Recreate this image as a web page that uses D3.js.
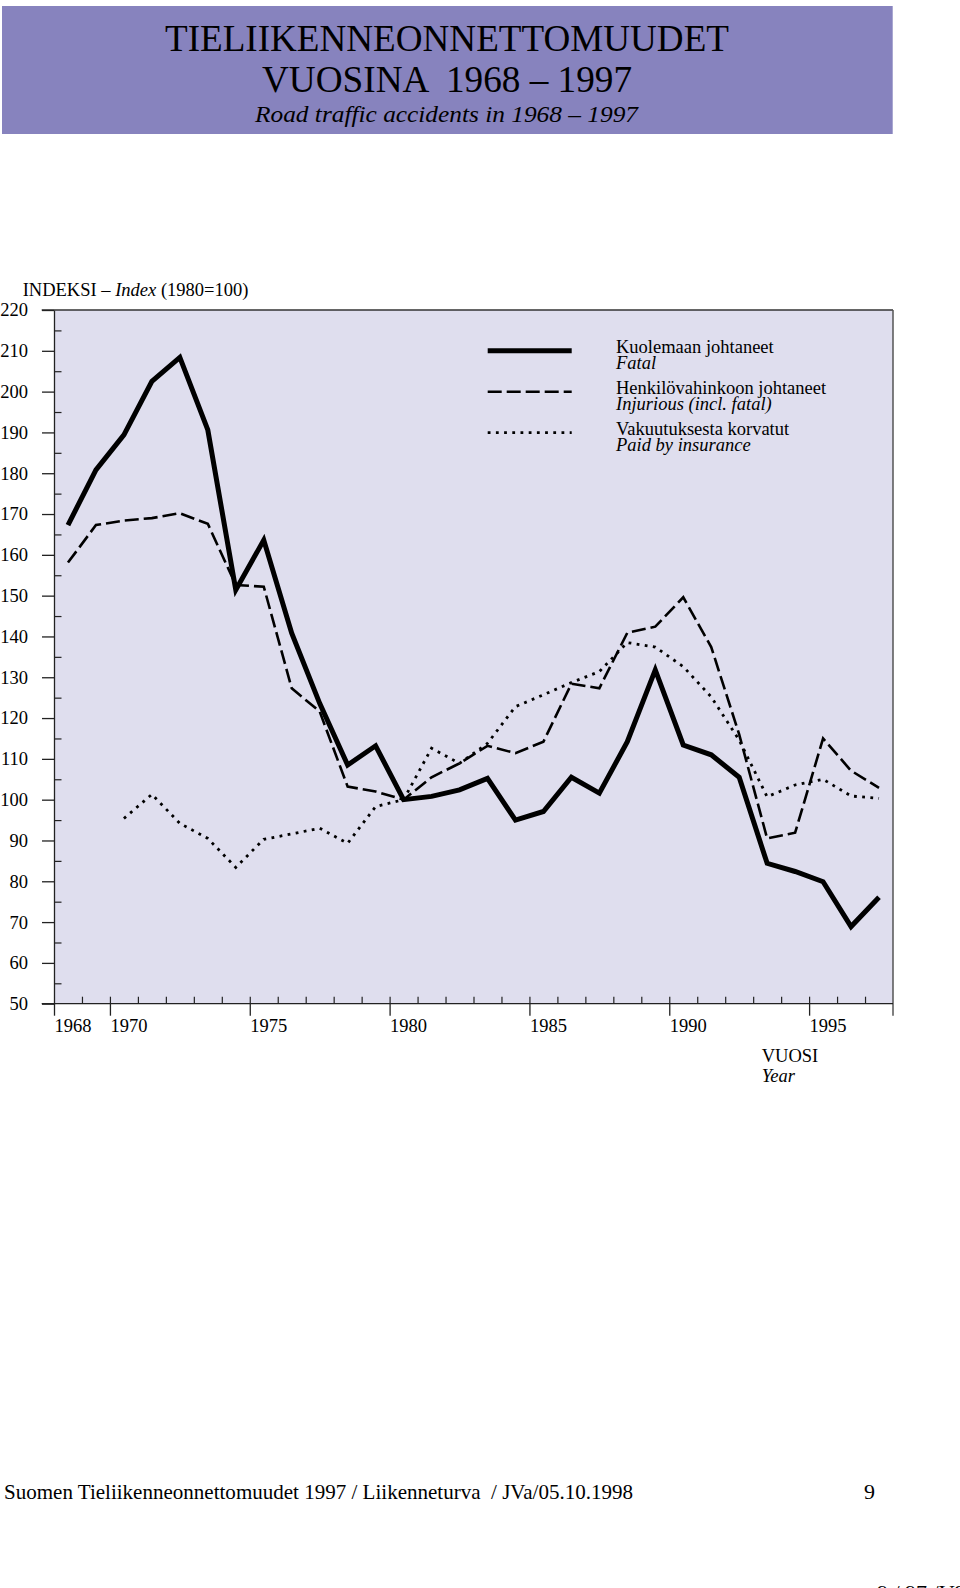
<!DOCTYPE html>
<html>
<head>
<meta charset="utf-8">
<script src="https://cdn.jsdelivr.net/npm/d3@7"></script>
<style>
  html, body { margin: 0; padding: 0; background: #ffffff; }
  svg { display: block; font-family: "Liberation Serif", "Times New Roman", serif; }
  text { fill: #000; }
</style>
</head>
<body>
<svg id="chart" width="960" height="1588"></svg>
<script>
// ---- Data (index 1980 = 100) ----
const years = d3.range(1968, 1998);
const fatal = [167.3, 180.8, 189.4, 202.5, 208.4, 190.6, 151.4, 163.6, 140.8, 123.6,
               108.5, 113.2, 100, 100.8, 102.4, 105.2, 95.0, 97.1, 105.5, 101.6,
               114.2, 131.8, 113.4, 111.0, 105.5, 84.4, 82.4, 79.9, 68.9, 76.1];
const injurious = [158.1, 167.3, 168.4, 169.0, 170.2, 167.6, 152.6, 152.2, 127.3, 121.6,
                   103.2, 102.0, 100, 105.5, 108.9, 113.2, 111.4, 114.2, 128.4, 127.3,
                   140.9, 142.4, 149.6, 137.4, 116.0, 90.5, 91.9, 115.0, 107.1, 102.9];
const insuranceYears = d3.range(1970, 1998);
const insurance = [95.4, 101.3, 94.2, 90.5, 83.4, 90.3, 91.6, 93.0, 89.3, 98.3,
                   100, 112.6, 108.9, 113.8, 122.8, 125.7, 128.7, 131.4, 138.5, 137.4,
                   132.6, 125.2, 114.6, 100.7, 103.6, 105.0, 100.9, 100.3];
const yMajorTicks = d3.range(50, 221, 10);
const yMinorTicks = d3.range(55, 220, 10);
const xLabelTicks = [1968, 1970, 1975, 1980, 1985, 1990, 1995];
const xMinorTicks = d3.range(1969, 1998);

const titleLines = ["TIELIIKENNEONNETTOMUUDET", "VUOSINA  1968 – 1997"];
const subtitle = "Road traffic accidents in 1968 – 1997";
const legendItems = [
  {fi: "Kuolemaan johtaneet", en: "Fatal", key: "fatal"},
  {fi: "Henkilövahinkoon johtaneet", en: "Injurious (incl. fatal)", key: "injurious"},
  {fi: "Vakuutuksesta korvatut", en: "Paid by insurance", key: "insurance"}
];
const footer = "Suomen Tieliikenneonnettomuudet 1997 / Liikenneturva  / JVa/05.10.1998";

(function () {
// ---- Layout ----
const svg = d3.select("#chart");
const pL = 54, pR = 893, pT = 310, pB = 1003.7;
const x = d3.scaleLinear().domain([1968, 1998]).range([pL, pR]);
const y = d3.scaleLinear().domain([50, 220]).range([pB, pT]);

const styles = {
  fatal: {w: 5, dash: null},
  injurious: {w: 2.6, dash: "14,5"},
  insurance: {w: 2.8, dash: "2.8,5.4"}
};

// Title box
svg.append("rect").attr("x", 2).attr("y", 6).attr("width", 890.7).attr("height", 128)
  .attr("fill", "#8783be");
svg.append("text").attr("x", 447).attr("y", 51).attr("text-anchor", "middle")
  .attr("font-size", 37.5).attr("textLength", 564).attr("lengthAdjust", "spacingAndGlyphs")
  .text(titleLines[0]);
svg.append("text").attr("x", 447).attr("y", 91.7).attr("text-anchor", "middle")
  .attr("font-size", 37.5).style("white-space", "pre")
  .attr("textLength", 370).attr("lengthAdjust", "spacingAndGlyphs")
  .text(titleLines[1]);
svg.append("text").attr("x", 446.5).attr("y", 121.5).attr("text-anchor", "middle")
  .attr("font-size", 24).attr("font-style", "italic")
  .attr("textLength", 383).attr("lengthAdjust", "spacingAndGlyphs")
  .text(subtitle);

// Plot background
svg.append("rect").attr("x", pL).attr("y", pT).attr("width", pR - pL).attr("height", pB - pT)
  .attr("fill", "#dfdeee");

// Y axis title
const yt = svg.append("text").attr("x", 22.7).attr("y", 296).attr("font-size", 18.5);
yt.append("tspan").text("INDEKSI – ");
yt.append("tspan").attr("font-style", "italic").text("Index");
yt.append("tspan").text(" (1980=100)");

// Top border and right border
svg.append("line").attr("x1", 41.7).attr("x2", pR).attr("y1", pT).attr("y2", pT)
  .attr("stroke", "#333").attr("stroke-width", 1.3);
svg.append("line").attr("x1", pR).attr("x2", pR).attr("y1", pT).attr("y2", pB + 12)
  .attr("stroke", "#555").attr("stroke-width", 1.5);

// Y axis major
const yAxis = d3.axisLeft(y).tickValues(yMajorTicks).tickSize(12).tickSizeOuter(0).tickPadding(14)
  .tickFormat(d3.format("d"));
const gy = svg.append("g").attr("transform", `translate(${pL},0)`).call(yAxis);
gy.select(".domain").attr("stroke", "#222").attr("stroke-width", 1.3);
gy.selectAll(".tick line").attr("stroke", "#222").attr("stroke-width", 1.3);
gy.selectAll(".tick text").attr("font-size", 18.5).attr("font-family", "Liberation Serif, serif").attr("fill", "#000");

// Y axis minor (inside)
const gyMinor = svg.append("g").attr("transform", `translate(${pL},0)`)
  .call(d3.axisRight(y).tickValues(yMinorTicks).tickSize(7.5).tickSizeOuter(0).tickFormat(""));
gyMinor.select(".domain").remove();
gyMinor.selectAll(".tick line").attr("stroke", "#222").attr("stroke-width", 1.2);

// X axis minor (inside, upward)
const gxMinor = svg.append("g").attr("transform", `translate(0,${pB})`)
  .call(d3.axisTop(x).tickValues(xMinorTicks).tickSize(7).tickSizeOuter(0).tickFormat(""));
gxMinor.select(".domain").remove();
gxMinor.selectAll(".tick line").attr("stroke", "#222").attr("stroke-width", 1.2);

// X axis major
const gx = svg.append("g").attr("transform", `translate(0,${pB})`)
  .call(d3.axisBottom(x).tickValues(xLabelTicks).tickSize(12).tickSizeOuter(0).tickPadding(3.5)
    .tickFormat(d3.format("d")));
gx.select(".domain").remove();
gx.selectAll(".tick line").attr("stroke", "#222").attr("stroke-width", 1.3);
gx.selectAll(".tick text").attr("font-size", 18.5).attr("font-family", "Liberation Serif, serif")
  .attr("fill", "#000").attr("text-anchor", "start").attr("dx", 0);
// bottom axis line
svg.append("line").attr("x1", 41.7).attr("x2", pR).attr("y1", pB).attr("y2", pB)
  .attr("stroke", "#222").attr("stroke-width", 1.3);

// X axis title
const xt = svg.append("text").attr("x", 761.7).attr("y", 1062).attr("font-size", 18.5);
xt.append("tspan").attr("x", 761.7).text("VUOSI");
xt.append("tspan").attr("x", 761.7).attr("dy", 19.5).attr("font-style", "italic").text("Year");

// Lines
const line = d3.line().x(d => x(d[0] + 0.5)).y(d => y(d[1]));
function drawSeries(yrs, vals, key) {
  const s = styles[key];
  svg.append("path").datum(yrs.map((yr, i) => [yr, vals[i]]))
    .attr("d", line).attr("fill", "none").attr("stroke", "#000")
    .attr("stroke-width", s.w).attr("stroke-linejoin", "miter").attr("stroke-miterlimit", 10)
    .attr("stroke-dasharray", s.dash);
}
drawSeries(insuranceYears, insurance, "insurance");
drawSeries(years, injurious, "injurious");
drawSeries(years, fatal, "fatal");

// Legend (each entry one text element with two lines)
const legendY = [350.7, 391.7, 432.7];
legendItems.forEach((item, i) => {
  const s = styles[item.key];
  svg.append("line").attr("x1", 487.7).attr("x2", 571.7).attr("y1", legendY[i]).attr("y2", legendY[i])
    .attr("stroke", "#000").attr("stroke-width", s.w).attr("stroke-dasharray", s.dash);
  const t = svg.append("text").attr("x", 616).attr("y", legendY[i] + 2).attr("font-size", 18.5);
  t.append("tspan").attr("x", 616).text(item.fi);
  t.append("tspan").attr("x", 616).attr("dy", 15.8).attr("font-style", "italic").text(item.en);
});

// Footer
svg.append("text").attr("x", 4).attr("y", 1499).attr("font-size", 22).style("white-space", "pre")
  .attr("textLength", 629).attr("lengthAdjust", "spacingAndGlyphs").text(footer);
svg.append("text").attr("x", 864).attr("y", 1499).attr("font-size", 22).text("9");
svg.append("text").attr("x", 877).attr("y", 1600).attr("font-size", 22).text("9 / 97 /V98");
})();
</script>
</body>
</html>
